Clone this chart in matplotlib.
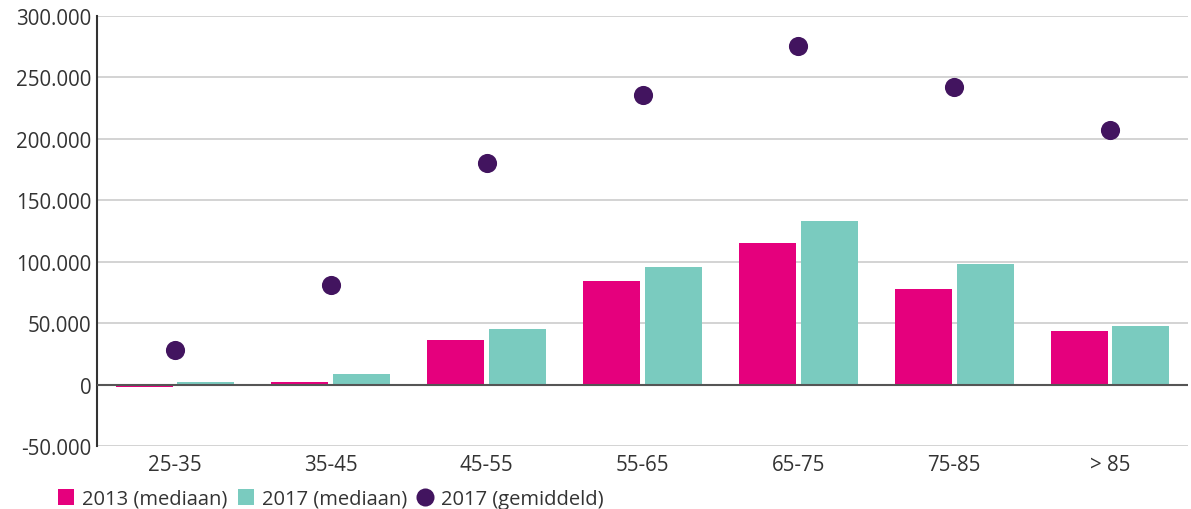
import matplotlib
matplotlib.use("Agg")
import matplotlib.pyplot as plt
import numpy as np
from matplotlib.lines import Line2D
from matplotlib.ticker import FuncFormatter

categories = ["25-35", "35-45", "45-55", "55-65", "65-75", "75-85", "> 85"]
median_2013 = [-2000, 2000, 36000, 84000, 115000, 77500, 43500]
median_2017 = [1800, 9000, 45000, 95500, 133000, 98500, 48000]
mean_2017 = [28000, 81000, 180000, 235500, 275500, 242000, 207000]

c2013 = "#E5007D"
c2017 = "#7ACBBF"
cmean = "#42145F"

plt.rcParams['font.family'] = ['Open Sans', 'DejaVu Sans']

fig = plt.figure(figsize=(11.91, 5.10), dpi=100)
ax = fig.add_axes([97/1191, 1-447/510, (1188-97)/1191, (447-17)/510])

x = np.arange(len(categories))
w = 0.365
ax.bar(x - 0.198, median_2013, width=w, color=c2013, zorder=3)
ax.bar(x + 0.198, median_2017, width=w, color=c2017, zorder=3)
ax.scatter(x, mean_2017, s=190, color=cmean, zorder=4, linewidths=0)

ax.set_xlim(-0.5, len(categories) - 0.5)
ax.set_ylim(-50000, 300000)
ax.set_yticks(np.arange(-50000, 300001, 50000))
ax.yaxis.set_major_formatter(FuncFormatter(lambda v, p: f"{int(v):,}".replace(",", ".")))
ax.grid(axis='y', color='#cccccc', linewidth=1.2, zorder=0)
ax.axhline(0, color='#555555', linewidth=1.5, zorder=5)
ax.set_xticks(x)
ax.set_xticklabels(categories)
for s in ['top', 'right', 'bottom']:
    ax.spines[s].set_visible(False)
ax.spines['left'].set_color('#333333')
ax.spines['left'].set_linewidth(1.5)
ax.tick_params(axis='both', length=0, labelsize=14.8, colors='#333333')
ax.tick_params(axis='x', pad=6)
ax.tick_params(axis='y', pad=4)

handles = [
    Line2D([0], [0], marker='s', linestyle='none', markersize=12, markerfacecolor=c2013, markeredgewidth=0),
    Line2D([0], [0], marker='s', linestyle='none', markersize=12, markerfacecolor=c2017, markeredgewidth=0),
    Line2D([0], [0], marker='o', linestyle='none', markersize=13, markerfacecolor=cmean, markeredgewidth=0),
]
labels = ["2013 (mediaan)", "2017 (mediaan)", "2017 (gemiddeld)"]
fig.legend(handles, labels, loc='lower left', bbox_to_anchor=(40/1191, -0.035), ncol=3,
           frameon=False, fontsize=14.5, handlelength=0.8, handletextpad=0.4,
           columnspacing=0.5, labelcolor='#333333')

fig.savefig("out.png", dpi=100)
